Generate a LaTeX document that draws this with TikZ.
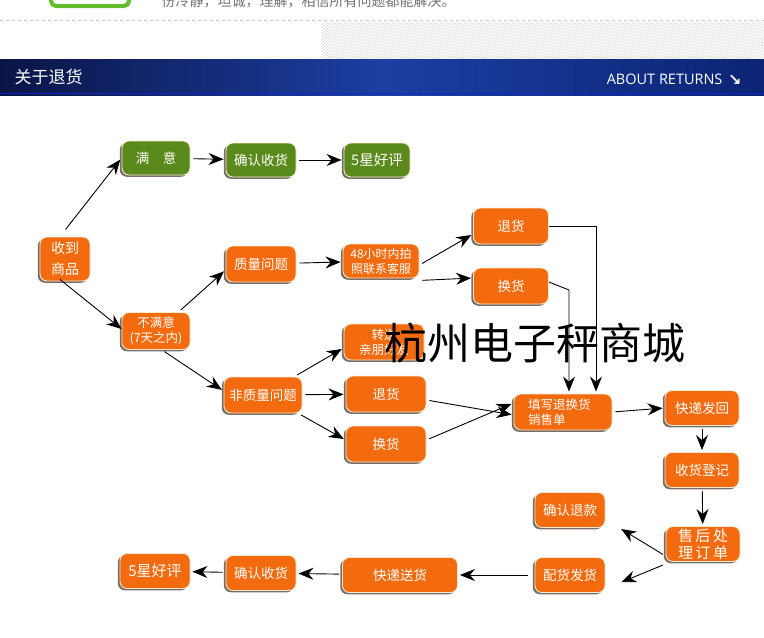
\documentclass[tikz,border=0pt]{standalone}
\usepackage{fontspec}
\newfontfamily\cjk{Noto Sans CJK SC}
\newfontfamily\latin{Open Sans}
\newfontfamily\sym{DejaVu Sans}
\usetikzlibrary{arrows.meta,shadows,patterns}
\definecolor{org}{HTML}{F46A0E}
\definecolor{grn}{HTML}{5A8A1C}
\definecolor{lgrn}{HTML}{63BE2A}
\definecolor{cream}{HTML}{F6E9CF}
\definecolor{shd}{HTML}{6B5E55}
\definecolor{navyA}{HTML}{0A1546}
\definecolor{navyB}{HTML}{1C3FA2}
\definecolor{navyC}{HTML}{0B2474}
\tikzset{
  box/.style={rounded corners=7pt, fill=org, draw=cream, line width=0.9pt,
    text=white, font=\cjk\fontsize{13.5}{16}\selectfont, align=center,
    inner sep=0pt, minimum height=35pt, minimum width=70pt,
    drop shadow={shadow xshift=-2.2pt, shadow yshift=-1.8pt, fill=shd, opacity=0.9}},
  gbox/.style={box, fill=grn},
  small/.style={font=\cjk\fontsize{12.5}{15}\selectfont},
  arr/.style={draw=black, line width=0.9pt, -{Stealth[length=15pt,width=12pt,inset=5pt]}},
  gap/.style={shorten <=3pt, shorten >=2pt},
}
\begin{document}
\begin{tikzpicture}[x=1pt,y=-1pt]
\useasboundingbox (0,0) rectangle (764,638);
% top strip
\draw[line width=4pt, draw=lgrn, fill=white, rounded corners=5pt] (51,-20) rectangle (129,6);
\node[anchor=west, text=gray!90!black, font=\cjk\fontsize{14}{14}\selectfont] (toptext) at (158,1) {份冷静，坦诚，理解，相信所有问题都能解决。};
\draw[gray!45, dashed, line width=0.6pt] (0,20) -- (764,20);
\fill[pattern=north east lines, pattern color=gray!30] (322,22) rectangle (764,59);
% header band
\shade[left color=navyA, right color=navyC, middle color=navyB] (0,59) rectangle (764,95);
\draw[blue!40!navyB, line width=0.8pt] (0,93) -- (764,93);
\node[anchor=west, text=white, font=\cjk\fontsize{17}{17}\selectfont] (h1) at (11,77) {关于退货};
\node[anchor=east, text=white, font=\latin\fontsize{14.5}{14}\selectfont] (h2) at (726,79) {ABOUT RETURNS};
\node[anchor=west, text=white, font=\sym\bfseries\fontsize{16}{16}\selectfont, inner sep=0pt] (h3) at (728,80) {↘};

% nodes
\node[box, minimum width=50pt, minimum height=44pt, font=\cjk\fontsize{14}{21}\selectfont] (recv) at (65,259) {收到\\商品};
\node[gbox, minimum width=68pt, minimum height=34pt] (sat) at (156,158) {满\quad 意};
\node[gbox, minimum height=34pt] (gconf) at (261,160) {确认收货};
\node[gbox, minimum width=66pt, minimum height=34pt, font=\cjk\fontsize{14.5}{16}\selectfont] (gstar) at (377,160) {5星好评};
\node[box, minimum width=68pt, minimum height=37pt, small] (unsat) at (156,331) {不满意\\(7天之内)};
\node[box, minimum height=36pt] (qual) at (261,264) {质量问题};
\node[box, minimum width=76pt, minimum height=34pt, font=\cjk\fontsize{12}{15}\selectfont] (h48) at (381,261) {48小时内拍\\照联系客服};
\node[box, minimum width=75pt, minimum height=36pt] (ret1) at (511,226) {退货};
\node[box, minimum width=75pt, minimum height=36pt] (exc1) at (511,286) {换货};
\node[box, minimum width=80pt, minimum height=36pt, small] (gift) at (384,342) {转送\\亲朋好友};
\node[box, minimum width=78pt, minimum height=36pt] (nonq) at (263,395) {非质量问题};
\node[box, minimum width=80pt, minimum height=36pt] (ret2) at (386,394) {退货};
\node[box, minimum width=80pt, minimum height=36pt] (exc2) at (386,444) {换货};
\node[box, minimum width=98pt, minimum height=36pt, small, align=left, text width=70pt] (form) at (563,412) {填写退换货\\销售单};
\node[box, minimum width=74pt] (back) at (702,408) {快递发回};
\node[box, minimum width=74pt] (reg) at (702,470) {收货登记};
\node[box, minimum width=74pt, font=\cjk\fontsize{15}{17}\selectfont] (proc) at (703,544) {售\,后\,处\\理\,订\,单};
\node[box, minimum width=70pt] (refund) at (570,510) {确认退款};
\node[box, minimum width=70pt] (ship) at (570,575) {配货发货};
\node[box, minimum width=115pt] (deliv) at (400,575) {快递送货};
\node[box, minimum width=70pt] (oconf) at (261,573) {确认收货};
\node[box, minimum width=70pt, font=\cjk\fontsize{15}{16}\selectfont] (ostar) at (155,571) {5星好评};

% coordinates for bends
\coordinate (r1c) at (596,226);
\coordinate (e1c) at (569,290);

% connectors
\draw[arr, shorten <=9pt, shorten >=2pt] (recv.north) ++(-5,0) coordinate (rn) -- (sat.west);
\draw[arr] ([xshift=-5pt,yshift=2pt]recv.south) -- ([yshift=2pt]unsat.west);
\draw[arr, gap] (sat) -- (gconf);
\draw[arr, gap] (gconf) -- (gstar);
\draw[arr, gap] ([xshift=-12pt]unsat.north east) -- ([yshift=-6pt]qual.west);
\draw[arr, gap] ([xshift=6pt]unsat.south) -- ([yshift=4pt]nonq.west);
\draw[arr, gap] (qual) -- (h48);
\draw[arr, gap] ([yshift=-4pt]h48.east) -- ([yshift=-8pt]ret1.west);
\draw[arr, gap] ([yshift=-2pt]h48.south east) -- ([yshift=8pt]exc1.west);
\draw[arr, shorten >=2pt] (ret1.east) -- (r1c) -- (form.north -| r1c);
\draw[arr, shorten >=2pt] ([yshift=4pt]exc1.east) -- (e1c) -- (form.north -| e1c);
\draw[arr, gap] ([xshift=-8pt]nonq.north east) -- ([yshift=-6pt]gift.west);
\draw[arr, gap] (nonq) -- (ret2);
\draw[arr, gap] ([xshift=-4pt]nonq.south east) -- ([yshift=4pt]exc2.west);
\draw[arr, gap] ([yshift=-6pt]ret2.east) -- ([yshift=-3pt]form.west);
\draw[arr, gap] ([yshift=4pt]exc2.east) -- ([yshift=9pt]form.west);
\draw[arr, gap] (form.east) -- (back.west);
\draw[arr, gap] (back) -- (reg);
\draw[arr, gap] (reg) -- (proc);
\draw[arr, gap] ([yshift=-12pt]proc.west) -- ([xshift=14pt]refund.south east);
\draw[arr, gap] ([yshift=-2pt]proc.south west) -- ([xshift=14pt, yshift=-8pt]ship.east);
\draw[arr, gap] ([xshift=-4pt]ship.west) -- (deliv.east);
\draw[arr, gap] (deliv) -- (oconf);
\draw[arr, gap] (oconf) -- (ostar);

% watermark
\node[font=\cjk\fontsize{43}{43}\selectfont, text=black, inner sep=0pt] (wm) at (535,343) {杭州电子秤商城};
\end{tikzpicture}
\end{document}
